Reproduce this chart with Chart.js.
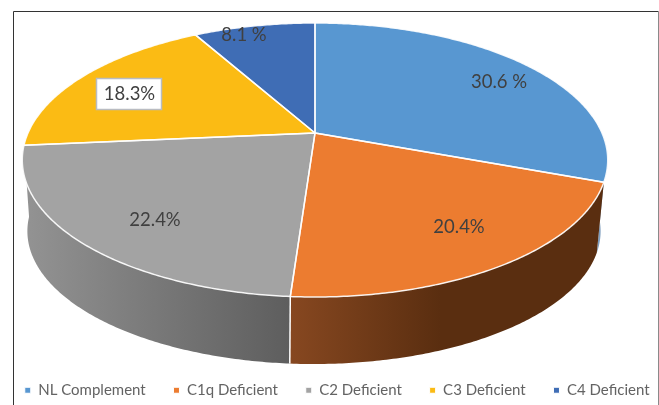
<!DOCTYPE html>
<html>
<head>
<meta charset="utf-8">
<style>html,body{margin:0;padding:0;background:#fff}canvas{display:block}</style>
<script src="https://cdn.jsdelivr.net/npm/chart.js@4/dist/chart.umd.min.js"></script>
</head>
<body>
<canvas id="c" width="659" height="405"></canvas>
<script>
const categories = ["NL Complement", "C1q Deficient", "C2 Deficient", "C3 Deficient", "C4 Deficient"];
const values = [30.6, 20.4, 22.4, 18.3, 8.1];
const valueLabels = ["30.6 %", "20.4%", "22.4%", "18.3%", "8.1 %"];
const topColors = ["#5897d1", "#ec7c30", "#a3a3a3", "#fbbb14", "#3f6db5"];

// Perspective of the disc: unit circle -> screen
const TOP = {cx: 315, cy: 133, a: 287, b: 131.7, k: 0.197};
const BOTTOM = {cx: 314, cy: 205, a: 281, b: 127.7, k: 0.197};
function project(p, angle) {
  const u = Math.cos(angle), v = Math.sin(angle), w = 1 - p.k * v;
  return [p.cx + p.a * u / w, p.cy + p.b * v / w];
}
function rim(ctx, p, from, to) {
  const n = Math.max(2, Math.ceil(Math.abs(to - from) / 0.01));
  for (let i = 0; i <= n; i++) {
    const q = project(p, from + (to - from) * i / n);
    ctx.lineTo(q[0], q[1]);
  }
}
function wallFill(ctx, i) {
  const g = ctx.createLinearGradient(i === 2 ? 25 : 293, 0, i === 2 ? 293 : 440, 0);
  if (i === 2) { g.addColorStop(0, "#939393"); g.addColorStop(1, "#5d5d5d"); return g; }
  if (i === 1) { g.addColorStop(0, "#864720"); g.addColorStop(1, "#5a2e10"); return g; }
  return "#7e9dbd";
}
const labelBoxes = {
  0: {x: 499, y: 82}, 1: {x: 459, y: 227}, 2: {x: 155, y: 220.5}, 3: {x: 129.5, y: 94, box: true}, 4: {x: 244, y: 35}
};
const disc3d = {
  id: "disc3d",
  beforeDraw(chart) {
    // wider item gap once the legend has been fitted on one row
    const lg = chart.legend, o = lg.options;
    if (!o.__wide) {
      lg.options = Object.create(o, {
        __wide: {value: true},
        labels: {value: Object.create(o.labels, {padding: {value: 27.75}})}
      });
      lg.right += 60;
      lg.top -= 1;
      lg.left -= 3;
    }
  },
  beforeDatasetDraw(chart, args) {
    const ctx = chart.ctx, arcs = chart.getDatasetMeta(args.index).data;
    ctx.save();
    // walls (only the three front slices show a side)
    arcs.slice(0, 3).forEach((arc, i) => {
      const s = Math.max(arc.startAngle, 0.0), e = arc.endAngle;
      if (e <= s) return;
      ctx.beginPath();
      const t0 = project(TOP, s); ctx.moveTo(t0[0], t0[1]);
      rim(ctx, TOP, s, e);
      rim(ctx, BOTTOM, e, s);
      ctx.closePath();
      ctx.fillStyle = wallFill(ctx, i);
      ctx.fill();
    });
    // white edge between grey and orange walls
    const seam = arcs[2].startAngle, a = project(TOP, seam), b = project(BOTTOM, seam);
    ctx.strokeStyle = "#ffffff"; ctx.lineWidth = 1.5;
    ctx.beginPath(); ctx.moveTo(a[0], a[1]); ctx.lineTo(b[0], b[1]); ctx.stroke();
    // top faces
    arcs.forEach((arc, i) => {
      ctx.beginPath();
      ctx.moveTo(TOP.cx, TOP.cy);
      rim(ctx, TOP, arc.startAngle, arc.endAngle);
      ctx.closePath();
      ctx.fillStyle = arc.options.backgroundColor;
      ctx.fill();
    });
    arcs.forEach((arc) => {
      ctx.beginPath();
      ctx.moveTo(TOP.cx, TOP.cy);
      rim(ctx, TOP, arc.startAngle, arc.endAngle);
      ctx.closePath();
      ctx.strokeStyle = "rgba(255,255,255,0.9)"; ctx.lineWidth = 1.5; ctx.lineJoin = "round";
      ctx.stroke();
    });
    ctx.restore();
    return false;
  },
  afterDraw(chart) {
    const ctx = chart.ctx;
    ctx.save();
    // frame
    ctx.lineWidth = 1;
    ctx.strokeStyle = "#333333";
    ctx.beginPath(); ctx.moveTo(13.5, 405); ctx.lineTo(13.5, 11.5); ctx.lineTo(658.5, 11.5); ctx.stroke();
    ctx.strokeStyle = "#8a8a8a";
    ctx.beginPath(); ctx.moveTo(658.5, 11.5); ctx.lineTo(658.5, 405); ctx.stroke();
    // value labels
    ctx.font = "18.5px Lato";
    ctx.textAlign = "center"; ctx.textBaseline = "middle";
    valueLabels.forEach((t, i) => {
      const p = labelBoxes[i];
      if (p.box) {
        ctx.fillStyle = "#ffffff"; ctx.fillRect(96.5, 78.5, 65, 31);
        ctx.strokeStyle = "#b9bcc2"; ctx.lineWidth = 1.5; ctx.strokeRect(96.5, 78.5, 65, 31);
      }
      ctx.fillStyle = "#404040";
      ctx.fillText(t, p.x, p.y);
    });
    ctx.restore();
  }
};
new Chart(document.getElementById("c"), {
  type: "pie",
  data: {labels: categories, datasets: [{data: values, backgroundColor: topColors, borderColor: "#ffffff", borderWidth: 1}]},
  plugins: [disc3d],
  options: {
    responsive: false,
    animation: false,
    layout: {padding: {bottom: 0, left: 0, right: 0, top: 12}},
    plugins: {
      tooltip: {enabled: false},
      legend: {
        position: "bottom",
        align: "start",
        labels: {
          usePointStyle: true, pointStyle: "rect", boxWidth: 6, boxHeight: 6, padding: 24,
          color: "#636363", font: {family: "Lato", size: 15}
        }
      }
    }
  }
});
</script>
</body>
</html>
